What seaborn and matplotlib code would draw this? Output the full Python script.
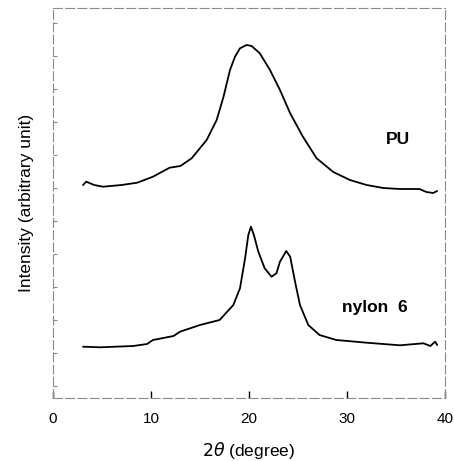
import numpy as np
import pandas as pd
import matplotlib
matplotlib.use("Agg")
import matplotlib.pyplot as plt
import seaborn as sns

# 2theta (degree) and intensity (arbitrary unit)
pu_x = [3.06, 3.4, 4.2, 5.1, 7.0, 8.6, 10.2, 11.9, 13.0, 14.15, 15.68, 16.7, 17.4, 18.06,
        18.57, 19.08, 19.76, 20.27, 21.1, 22.14, 23.16, 24.2, 25.5, 26.9, 28.6, 30.3,
        32.0, 33.7, 35.4, 37.4, 38.1, 38.8, 39.2]
pu_y = [213, 216.3, 213, 211.3, 213, 215.3, 221.3, 230.3, 232, 239.7, 258, 278, 301.3, 328,
        341.3, 349.7, 353, 352, 344.7, 328, 308, 284.7, 261.3, 239.7, 226, 218,
        213, 210, 209, 209, 206, 205, 207]

ny_x = [3.06, 4.8, 8.2, 9.6, 10.2, 12.3, 12.96, 15.0, 17.0, 18.4, 19.08, 19.6, 19.93, 20.2,
        20.5, 20.95, 21.6, 22.3, 22.8, 23.16, 23.8, 24.2, 24.7, 25.2, 26.05, 27.2, 28.9,
        32.0, 35.4, 37.8, 38.5, 39.0, 39.2]
ny_y = [51.3, 50.7, 52, 54, 58, 62, 66.3, 73, 78, 93, 109.7, 139.7, 163, 171.3,
        163, 146.3, 129.7, 121.3, 124.7, 136.3, 147, 141.3, 116.3, 93, 73, 63, 58,
        55.3, 52.7, 54.7, 52, 56.3, 53]

x_ticks = [0, 10, 20, 30, 40]

df = pd.concat([
    pd.DataFrame({"theta": pu_x, "I": pu_y, "sample": "PU"}),
    pd.DataFrame({"theta": ny_x, "I": ny_y, "sample": "nylon 6"}),
])

sns.set_style("white")
plt.rcParams["font.family"] = ["Liberation Sans", "DejaVu Sans"]
plt.rcParams["text.color"] = "black"
plt.rcParams["axes.labelcolor"] = "black"
plt.rcParams["xtick.color"] = "black"
plt.rcParams["ytick.color"] = "#888888"

fig = plt.figure(figsize=(4.54, 4.61), dpi=100)
ax = fig.add_axes([53/454, 63/461, 392/454, 390/461])

sns.lineplot(data=df, x="theta", y="I", units="sample", estimator=None,
             color="black", linewidth=1.3, ax=ax, legend=False, sort=False)

ax.set_xlim(0, 40)
ax.set_ylim(0, 390)
ax.set_xticks(x_ticks)
ax.set_xticklabels([str(t) for t in x_ticks])
ax.set_yticks(np.arange(12, 390, 33))
ax.set_yticklabels([])
ax.tick_params(axis="x", bottom=True, direction="in", length=5, width=1,
               color="black", labelcolor="black", labelsize=11, pad=10)
ax.tick_params(axis="y", left=True, direction="in", length=3, width=0.8, color="#888888")

for s in ax.spines.values():
    s.set_visible(True)
    s.set_color("#8a8a8a")
    s.set_linewidth(0.8)
    s.set_linestyle((0, (8, 3)))

ax.set_xlabel(r"$2\theta$ (degree)", fontsize=12.5, labelpad=10, color="black")
ax.set_ylabel("Intensity (arbitrary unit)", fontsize=12.5, labelpad=10, color="black")

ax.text(34.0, 258, "PU", fontsize=12.5, fontweight="bold", ha="left", va="center", color="black")
ax.text(29.5, 91, "nylon  6", fontsize=12.5, fontweight="bold", ha="left", va="center", color="black")

fig.savefig("out.png", dpi=100)
